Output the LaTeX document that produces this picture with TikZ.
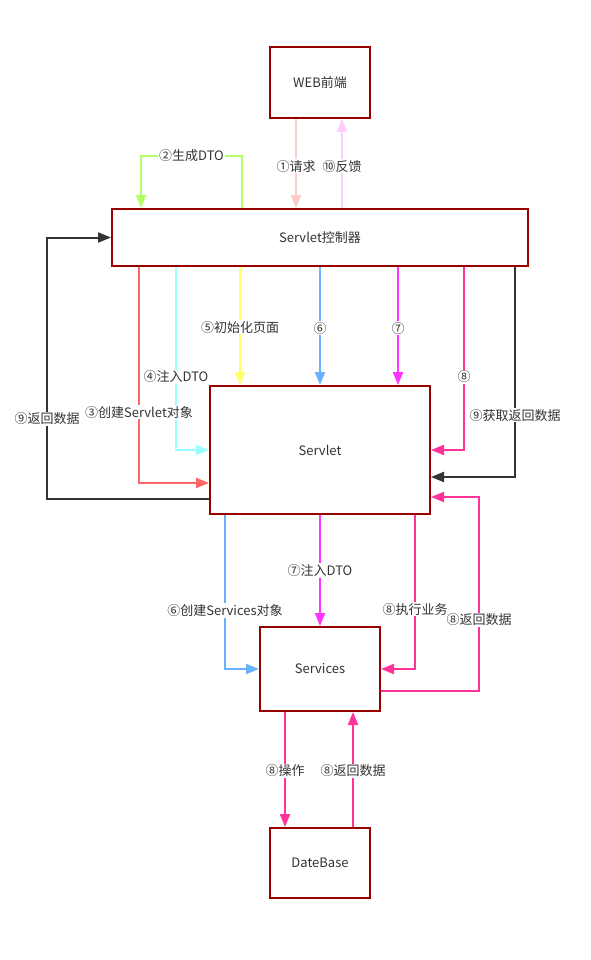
\documentclass[tikz,border=0pt]{standalone}
\usepackage{fontspec}
\setmainfont{Noto Sans CJK SC}
\usetikzlibrary{arrows.meta}

\definecolor{boxred}{HTML}{990000}
\definecolor{txt}{HTML}{333333}
\definecolor{cReq}{HTML}{FFCCCC}
\definecolor{cResp}{HTML}{FFCCFF}
\definecolor{cGen}{HTML}{B2FF66}
\definecolor{cCreate}{HTML}{FF6666}
\definecolor{cInject}{HTML}{99FFFF}
\definecolor{cInit}{HTML}{FFFF66}
\definecolor{cBlue}{HTML}{66B2FF}
\definecolor{cMag}{HTML}{FF33FF}
\definecolor{cPink}{HTML}{FF3399}
\definecolor{cDark}{HTML}{333333}

\begin{document}
\begin{tikzpicture}[x=1pt,y=-1pt,
  box/.style={draw=boxred, line width=2pt, fill=white, text=txt,
    font=\fontsize{13}{15}\selectfont, inner sep=0pt},
  conn/.style={line width=2pt, -{Triangle[length=13pt,width=10pt]}},
  lab/.style={fill=white, text=txt, font=\fontsize{13}{15}\selectfont, inner sep=1pt}]

\useasboundingbox (0,0) rectangle (590,960);

% components
\node[box, minimum width=100pt, minimum height=71pt] (web) at (320,82.5) {WEB前端};
\node[box, minimum width=416pt, minimum height=57pt] (ctrl) at (320,237.5) {Servlet控制器};
\node[box, minimum width=220pt, minimum height=128pt] (servlet) at (320,450) {Servlet};
\node[box, minimum width=120pt, minimum height=84pt] (services) at (320,669) {Services};
\node[box, minimum width=100pt, minimum height=70pt] (db) at (320,863) {DateBase};

% front end <-> controller
\draw[conn, cReq] ([xshift=-24pt]web.south) -- node[lab, pos=0.53]{①请求} ([xshift=-24pt]ctrl.north);
\draw[conn, cResp] ([xshift=22pt]ctrl.north) -- node[lab, pos=0.47]{⑩反馈} ([xshift=22pt]web.south);

% controller builds the DTO
\draw[conn, cGen] ([xshift=-78pt]ctrl.north) -- ++(0,-52)
  -| node[lab, pos=0.25]{②生成DTO} ([xshift=-179pt]ctrl.north);

% controller -> servlet
\draw[conn, cInject] ([xshift=-144pt]ctrl.south) |- node[lab, pos=0.3]{④注入DTO} (servlet.west);
\draw[conn, cCreate] ([xshift=-181pt]ctrl.south) |- node[lab, pos=0.336]{③创建Servlet对象} ([yshift=-33pt]servlet.west);
\draw[conn, cInit] ([xshift=-80pt]ctrl.south) -- node[lab, pos=0.51]{⑤初始化页面} ([xshift=-80pt]servlet.north);
\draw[conn, cBlue] (ctrl.south) -- node[lab, pos=0.52]{⑥} (servlet.north);
\draw[conn, cMag] ([xshift=78pt]ctrl.south) -- node[lab, pos=0.52]{⑦} ([xshift=78pt]servlet.north);
\draw[conn, cPink] ([xshift=144pt]ctrl.south) |- node[lab, pos=0.3]{⑧} (servlet.east);
\draw[conn, cDark] ([xshift=195pt]ctrl.south) |- node[lab, pos=0.353]{⑨获取返回数据} ([yshift=-27pt]servlet.east);

% servlet returns data to the controller
\draw[conn, cDark] ([yshift=-49pt]servlet.west) -- ++(-162,0)
  |- node[lab, pos=0.153]{⑨返回数据} (ctrl.west);

% servlet -> services
\draw[conn, cBlue] ([xshift=-95pt]servlet.south) |- node[lab, pos=0.31]{⑥创建Services对象} (services.west);
\draw[conn, cMag] (servlet.south) -- node[lab, pos=0.5]{⑦注入DTO} (services.north);
\draw[conn, cPink] ([xshift=95pt]servlet.south) |- node[lab, pos=0.306]{⑧执行业务} (services.east);
\draw[conn, cPink] ([yshift=-22pt]services.east) -- ++(98,0)
  |- node[lab, pos=0.183]{⑧返回数据} ([yshift=-47pt]servlet.east);

% services <-> database
\draw[conn, cPink] ([xshift=-35pt]services.south) -- node[lab, pos=0.51]{⑧操作} ([xshift=-35pt]db.north);
\draw[conn, cPink] ([xshift=33pt]db.north) -- node[lab, pos=0.49]{⑧返回数据} ([xshift=33pt]services.south);

\end{tikzpicture}
\end{document}
